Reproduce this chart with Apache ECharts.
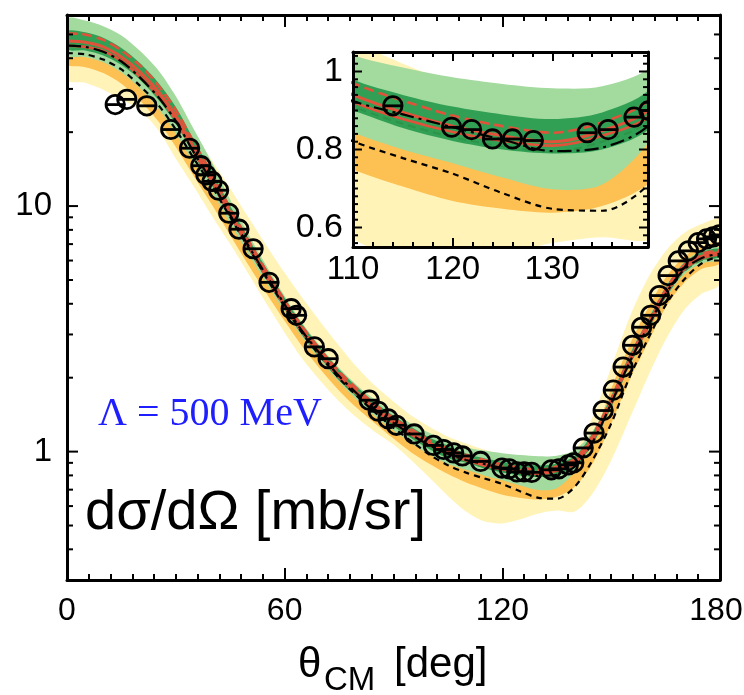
<!DOCTYPE html>
<html>
<head>
<meta charset="utf-8">
<script src="https://cdn.jsdelivr.net/npm/echarts@6/dist/echarts.min.js"></script>
<style>
  html, body { margin: 0; padding: 0; background: #fff; }
  #chart { width: 744px; height: 695px; }
</style>
</head>
<body>
<div id="chart"></div>
<script>
const thetaGrid = [0, 5, 10, 15, 20, 25, 30, 35, 40, 45, 50, 55, 60, 65, 70, 75, 80, 85, 90, 95,
  100, 105, 110, 115, 120, 125, 130, 135, 140, 145, 150, 155, 160, 165, 170, 175, 180]

// bands (lower / upper edge), mb/sr
const yellowLo = [32.7, 31.8, 29.8, 27.2, 24.6, 20.5, 15.6, 12, 9.1, 7.0, 5.3, 4.0, 3.05, 2.37, 1.93, 1.6, 1.37, 1.2, 1.07, 0.92,
  0.78, 0.66, 0.57, 0.52, 0.51, 0.53, 0.56, 0.575, 0.57, 0.68, 0.92, 1.35, 2.0, 2.85, 3.75, 4.4, 4.82]
const yellowHi = [55, 54, 51, 46, 40, 33, 26, 19.8, 15.3, 11.8, 9.0, 6.9, 5.35, 4.2, 3.35, 2.7, 2.2, 1.85, 1.6, 1.4,
  1.26, 1.15, 1.08, 1.02, 0.975, 0.955, 0.945, 0.955, 1.02, 1.4, 2.2, 3.5, 5.05, 6.55, 7.75, 8.45, 8.81]
const orangeLo = [37.5, 36.8, 34.8, 31.5, 27, 22.3, 17.4, 13.2, 10.1, 7.6, 5.75, 4.4, 3.4, 2.66, 2.15, 1.77, 1.5, 1.3, 1.13, 0.99,
  0.89, 0.81, 0.749, 0.705, 0.668, 0.648, 0.638, 0.655, 0.72, 0.9, 1.3, 1.95, 2.75, 3.85, 4.85, 5.55, 5.85]
const orangeHi = [41, 40.5, 39, 36, 31.5, 26.5, 20.8, 15.7, 12.0, 9.0, 6.8, 5.15, 3.95, 3.08, 2.5, 2.05, 1.74, 1.5, 1.33, 1.18,
  1.05, 0.94, 0.86, 0.82, 0.79, 0.76, 0.74, 0.75, 0.86, 1.14, 1.8, 2.7, 3.8, 5.1, 6.2, 6.85, 7.05]
const lightGreenLo = [41.2, 40.5, 38.5, 35, 30.3, 25.2, 19.7, 14.9, 11.4, 8.5, 6.4, 4.85, 3.72, 2.9, 2.34, 1.92, 1.62, 1.39, 1.22, 1.08,
  0.97, 0.89, 0.843, 0.8, 0.765, 0.728, 0.698, 0.71, 0.83, 1.07, 1.5, 2.2, 3.05, 4.18, 5.25, 5.85, 6.05]
const lightGreenHi = [57.9, 57, 54, 49.5, 43, 36, 28, 20.5, 15.0, 10.6, 7.7, 5.7, 4.3, 3.32, 2.67, 2.19, 1.86, 1.62, 1.44, 1.3,
  1.19, 1.11, 1.042, 1.01, 0.985, 0.968, 0.957, 0.962, 1.015, 1.22, 1.7, 2.5, 3.45, 4.72, 5.9, 6.6, 6.8]
const darkGreenLo = [43.5, 43, 41, 37.5, 32.8, 27.3, 21.6, 16.1, 12.1, 8.9, 6.65, 5.0, 3.82, 2.96, 2.39, 1.96, 1.66, 1.43, 1.27, 1.13,
  1.02, 0.94, 0.9, 0.855, 0.822, 0.8, 0.79, 0.8, 0.86, 1.09, 1.53, 2.25, 3.12, 4.28, 5.38, 6.0, 6.2]
const darkGreenHi = [51.5, 51, 48.5, 44, 38.3, 32, 25.3, 18.6, 13.8, 10.0, 7.4, 5.55, 4.22, 3.27, 2.63, 2.16, 1.83, 1.58, 1.4, 1.26,
  1.14, 1.06, 0.98, 0.94, 0.91, 0.89, 0.878, 0.895, 0.96, 1.2, 1.68, 2.46, 3.4, 4.65, 5.85, 6.5, 6.7]

// curves
const redMain = [47, 46.5, 44.5, 40.5, 35.3, 29.5, 23.3, 17.2, 12.9, 9.4, 7.0, 5.25, 4.0, 3.1, 2.5, 2.05, 1.74, 1.5, 1.33, 1.19,
  1.08, 1.0, 0.94, 0.895, 0.86, 0.835, 0.82, 0.848, 0.91, 1.14, 1.6, 2.35, 3.25, 4.45, 5.6, 6.25, 6.47]
const redUpper = [50.5, 50, 47.5, 43, 37.5, 31.2, 24.6, 18.1, 13.5, 9.75, 7.25, 5.42, 4.12, 3.2, 2.58, 2.12, 1.8, 1.55, 1.37, 1.23,
  1.11, 1.03, 0.97, 0.925, 0.887, 0.86, 0.843, 0.87, 0.935, 1.17, 1.64, 2.4, 3.33, 4.57, 5.73, 6.39, 6.6]
const redLower = [45, 44.5, 42.8, 39, 33.8, 28.3, 22.4, 16.6, 12.5, 9.15, 6.83, 5.12, 3.91, 3.04, 2.45, 2.01, 1.71, 1.47, 1.305, 1.17,
  1.06, 0.98, 0.922, 0.878, 0.845, 0.822, 0.81, 0.835, 0.893, 1.12, 1.57, 2.3, 3.18, 4.37, 5.5, 6.13, 6.35]
const greenDashed = [45.5, 45, 43, 39.2, 34, 28.5, 22.5, 16.6, 12.45, 9.08, 6.76, 5.07, 3.86, 3.0, 2.42, 1.98, 1.68, 1.45, 1.28, 1.15,
  1.04, 0.965, 0.91, 0.866, 0.832, 0.808, 0.795, 0.82, 0.88, 1.1, 1.545, 2.27, 3.14, 4.3, 5.4, 6.03, 6.25]
const blackDashDot = [45, 44.5, 42.5, 38.8, 33.5, 28.0, 22.2, 16.5, 12.5, 9.2, 6.9, 5.2, 3.97, 3.07, 2.48, 2.03, 1.72, 1.48, 1.31, 1.17,
  1.06, 0.98, 0.924, 0.89, 0.857, 0.825, 0.796, 0.805, 0.87, 1.1, 1.57, 2.3, 3.2, 4.38, 5.5, 6.15, 6.4]
const blackDashed = [42, 41.5, 39.5, 36, 31, 26, 20.5, 15.6, 12.0, 9.0, 6.8, 5.1, 3.9, 3.02, 2.43, 1.99, 1.68, 1.44, 1.25, 1.1,
  0.97, 0.88, 0.821, 0.778, 0.738, 0.688, 0.648, 0.643, 0.72, 0.93, 1.3, 2.0, 2.85, 3.95, 5.0, 5.85, 6.27]

// measured points
const dataTheta = [13.3, 16.5, 22.0, 28.6, 33.8, 36.9, 38.3, 40.0, 41.8, 44.6, 47.4, 51.3, 55.7, 61.8, 63.3, 68.2, 72.0,
  83.3, 85.8, 88.5, 90.8, 95.7, 101.0, 103.8, 106.6, 109.0, 114.0, 119.9, 121.9, 124.0, 126.0, 128.1, 133.5, 135.6,
  138.2, 139.7, 142.3, 145.3, 147.8, 150.6, 153.3, 155.9, 158.4, 160.9, 163.3, 165.7, 168.5, 171.3, 174.0, 176.3, 178.1, 179.8]
const dataValue = [25.9, 27.2, 25.6, 20.5, 17.2, 14.6, 13.4, 12.6, 11.6, 9.35, 8.05, 6.7, 4.89, 3.82, 3.59, 2.67, 2.39,
  1.62, 1.46, 1.36, 1.28, 1.18, 1.06, 1.02, 0.988, 0.96, 0.912, 0.857, 0.851, 0.827, 0.827, 0.823, 0.843, 0.851,
  0.883, 0.9, 1.035, 1.19, 1.47, 1.78, 2.21, 2.71, 3.21, 3.59, 4.32, 5.21, 5.98, 6.57, 7.1, 7.35, 7.49, 7.63]

// tick values
const mainYMajor = [1, 10]
const mainYMinor = [0.4, 0.5, 0.6, 0.7, 0.8, 0.9, 2, 3, 4, 5, 6, 7, 8, 9, 20, 30, 40, 50]
const insetYMajor = [0.6, 0.8, 1.0]
const insetYMinor = [0.56, 0.58, 0.62, 0.64, 0.66, 0.68, 0.7, 0.72, 0.74, 0.76, 0.78, 0.82, 0.84, 0.86, 0.88,
  0.9, 0.92, 0.94, 0.96, 0.98, 1.02, 1.04]

const FONT = "Liberation Sans"
const C_YELLOW = "#fff3b8"
const C_ORANGE = "#fdc052"
const C_LGREEN = "#a3da9d"
const C_DGREEN = "#31a055"
const C_RED = "#e0533a"

const chart = echarts.init(document.getElementById("chart"))

function band(lo, hi, color, xi, yi, z) {
  return {
    type: "custom",
    xAxisIndex: xi,
    yAxisIndex: yi,
    z: z,
    clip: true,
    silent: true,
    data: thetaGrid.map((t, i) => [t, lo[i], hi[i]]),
    renderItem: function (params, api) {
      if (params.dataIndex !== 0) return null
      const top = []
      const bottom = []
      for (let i = 0; i < thetaGrid.length; i++) {
        top.push(api.coord([thetaGrid[i], hi[i]]))
        bottom.push(api.coord([thetaGrid[i], lo[i]]))
      }
      return {
        type: "polygon",
        shape: { points: top.concat(bottom.reverse()), smooth: 0.3 },
        style: { fill: color }
      }
    }
  }
}

function curve(vals, color, width, dash, xi, yi, z) {
  return {
    type: "line",
    xAxisIndex: xi,
    yAxisIndex: yi,
    z: z,
    silent: true,
    symbol: "none",
    smooth: 0.3,
    data: thetaGrid.map((t, i) => [t, vals[i]]),
    lineStyle: { color: color, width: width, type: dash }
  }
}

function points(xi, yi, z) {
  return {
    type: "custom",
    xAxisIndex: xi,
    yAxisIndex: yi,
    z: z,
    clip: true,
    silent: true,
    data: dataTheta.map((t, i) => [t, dataValue[i]]),
    renderItem: function (params, api) {
      const p = api.coord([api.value(0), api.value(1)])
      const r = 9.2
      return {
        type: "group",
        children: [
          { type: "circle", shape: { cx: p[0], cy: p[1], r: r }, style: { fill: "none", stroke: "#000", lineWidth: 2.8 } },
          { type: "line", shape: { x1: p[0] - r, y1: p[1], x2: p[0] + r, y2: p[1] }, style: { stroke: "#000", lineWidth: 2.8 } }
        ]
      }
    }
  }
}

// ticks on the left and right frame, drawn through the y scale
function yTicks(values, xLeft, xRight, len, xi, yi, z) {
  const data = []
  values.forEach((v) => { data.push([xLeft, v]); data.push([xRight, v]) })
  return {
    type: "custom",
    xAxisIndex: xi,
    yAxisIndex: yi,
    z: z,
    silent: true,
    data: data,
    renderItem: function (params, api) {
      const x = api.value(0)
      const p = api.coord([x, api.value(1)])
      const dir = x === xLeft ? 1 : -1
      return {
        type: "line",
        shape: { x1: p[0], y1: p[1], x2: p[0] + dir * len, y2: p[1] },
        style: { stroke: "#000", lineWidth: 2 }
      }
    }
  }
}

function layer(xi, yi, z0, xLeft, xRight, major, minor, majorLen, minorLen) {
  return [
    band(yellowLo, yellowHi, C_YELLOW, xi, yi, z0),
    band(orangeLo, orangeHi, C_ORANGE, xi, yi, z0 + 1),
    band(lightGreenLo, lightGreenHi, C_LGREEN, xi, yi, z0 + 2),
    band(darkGreenLo, darkGreenHi, C_DGREEN, xi, yi, z0 + 3),
    curve(greenDashed, "#2b9448", 2, [8, 5], xi, yi, z0 + 4),
    curve(redLower, C_RED, 2.6, "solid", xi, yi, z0 + 4),
    curve(redMain, C_RED, 3, "solid", xi, yi, z0 + 4),
    curve(redUpper, C_RED, 2.6, [10, 5], xi, yi, z0 + 4),
    curve(blackDashDot, "#000", 2.2, [14, 5, 3, 5], xi, yi, z0 + 5),
    curve(blackDashed, "#000", 2.2, [6, 5], xi, yi, z0 + 5),
    points(xi, yi, z0 + 6),
    yTicks(major, xLeft, xRight, majorLen, xi, yi, z0 + 7),
    yTicks(minor, xLeft, xRight, minorLen, xi, yi, z0 + 7)
  ]
}

function xAxisDef(grid, pos, min, max, interval, split, majorLen, minorLen, showLabel, labelSize, margin) {
  return {
    gridIndex: grid,
    type: "value",
    position: pos,
    min: min,
    max: max,
    interval: interval,
    z: grid === 0 ? 10 : 40,
    axisLine: { show: true, onZero: false, lineStyle: { color: "#000", width: 3 } },
    axisTick: { show: true, inside: true, length: majorLen, lineStyle: { color: "#000", width: 2 } },
    minorTick: { show: true, splitNumber: split, length: minorLen, lineStyle: { color: "#000", width: 2 } },
    axisLabel: {
      show: showLabel,
      fontSize: labelSize,
      fontFamily: FONT,
      color: "#000",
      margin: margin,
      formatter: (v) => {
        if (Math.abs(v % interval) > 1e-6) return ""
        // last main label sits a little inside the canvas edge
        return v === 180 ? "{e|180}" : String(Math.round(v))
      },
      rich: { e: { fontSize: labelSize, fontFamily: FONT, color: "#000", padding: [0, 8, 0, 0] } }
    },
    splitLine: { show: false },
    minorSplitLine: { show: false }
  }
}

function yAxisDef(grid, type, pos, min, max, showLabel, formatter) {
  return {
    gridIndex: grid,
    type: type,
    position: pos,
    min: min,
    max: max,
    z: grid === 0 ? 10 : 40,
    axisLine: { show: true, onZero: false, lineStyle: { color: "#000", width: 3 } },
    axisTick: { show: false },
    minorTick: { show: false },
    axisLabel: {
      show: showLabel,
      fontSize: grid === 0 ? 33 : 34,
      fontFamily: FONT,
      color: "#000",
      margin: grid === 0 ? 15 : 10,
      formatter: formatter
    },
    splitLine: { show: false },
    minorSplitLine: { show: false }
  }
}

const mainYLabel = (v) => {
  const r = Math.round(v * 1000) / 1000
  return r === 1 || r === 10 ? String(r) : ""
}
const insetYLabel = (v) => {
  const r = Math.round(v * 1000) / 1000
  if (r === 0.6) return "0.6"
  if (r === 0.8) return "0.8"
  if (r === 1) return "1"
  return ""
}

const option = {
  animation: false,
  backgroundColor: "#fff",
  grid: [
    { left: 67, top: 15, width: 653, height: 565, outerBoundsMode: "none", containLabel: false },
    { left: 353, top: 52, width: 295, height: 195, outerBoundsMode: "none", containLabel: false,
      show: true, backgroundColor: "#fff", borderWidth: 0, z: 20 }
  ],
  xAxis: [
    xAxisDef(0, "bottom", 0, 180, 60, 10, 12, 6, true, 32, 15),
    xAxisDef(0, "top", 0, 180, 60, 10, 12, 6, false, 32, 15),
    xAxisDef(1, "bottom", 110, 139.6, 10, 5, 9, 5, true, 33, 6),
    xAxisDef(1, "top", 110, 139.6, 10, 5, 9, 5, false, 33, 6)
  ],
  yAxis: [
    yAxisDef(0, "log", "left", 0.3, 60, true, mainYLabel),
    yAxisDef(0, "log", "right", 0.3, 60, false, mainYLabel),
    yAxisDef(1, "value", "left", 0.55, 1.05, true, insetYLabel),
    yAxisDef(1, "value", "right", 0.55, 1.05, false, insetYLabel)
  ],
  series: [
    ...layer(0, 0, 2, 0, 180, mainYMajor, mainYMinor, 11, 6),
    ...layer(2, 2, 21, 110, 139.6, insetYMajor, insetYMinor, 9, 5)
  ],
  graphic: [
    { type: "text", x: 98, y: 414, z: 50,
      style: { text: "Λ = 500 MeV", font: '40px "Liberation Serif"', fill: "#1e1eff",
        textVerticalAlign: "middle", verticalAlign: "middle" } },
    { type: "text", x: 85, y: 514, z: 50,
      style: { text: "dσ/dΩ [mb/sr]", font: '56px "Liberation Sans"', fill: "#000",
        textVerticalAlign: "middle", verticalAlign: "middle" } },
    { type: "text", x: 298, y: 665, z: 50,
      style: { text: "θ", font: '42px "Liberation Sans"', fill: "#000",
        textVerticalAlign: "middle", verticalAlign: "middle" } },
    { type: "text", x: 324, y: 681, z: 50,
      style: { text: "CM", font: '33px "Liberation Sans"', fill: "#000",
        textVerticalAlign: "middle", verticalAlign: "middle" } },
    { type: "text", x: 394, y: 665, z: 50,
      style: { text: "[deg]", font: '42px "Liberation Sans"', fill: "#000",
        textVerticalAlign: "middle", verticalAlign: "middle" } }
  ]
}

chart.setOption(option)
</script>
</body>
</html>
